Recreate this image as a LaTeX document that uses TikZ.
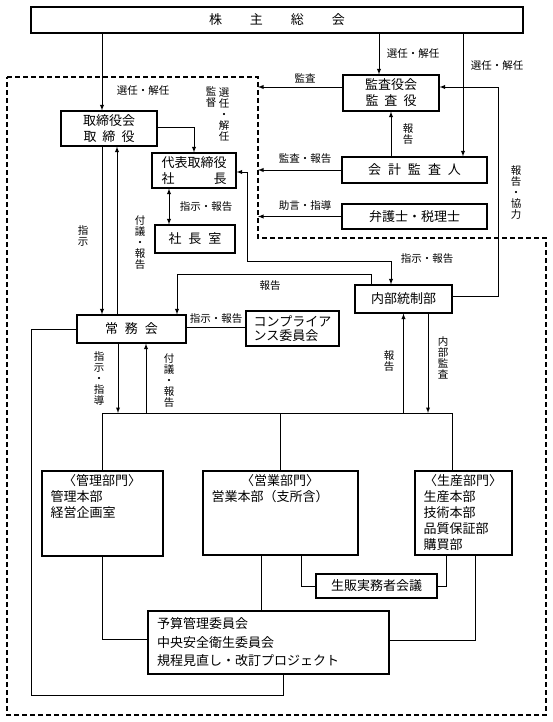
\documentclass[tikz,border=0pt]{standalone}
\usepackage{fontspec}
\setmainfont{Noto Sans CJK JP}
\usetikzlibrary{arrows}
\tikzset{
  box/.style={
    % The shape:
    shape=rectangle,inner sep=0pt,
    % The border:
    draw=black,line width=1.1pt,
    % The text:
    align=center,font=\fontsize{13}{16}\selectfont
  }}
\tikzset{
  depttxt/.style={
    % text block in the top left corner of a box
    anchor=north west,inner sep=0pt,align=left,
    font=\fontsize{13}{16}\selectfont}}
\tikzset{
  lbl/.style={
    inner sep=0pt,align=center,
    font=\fontsize{10.5}{11}\selectfont}}
\tikzset{
  line/.style={line width=0.9pt},
  arr/.style={line,->,>=latex},
  both/.style={line,<->,>=latex},
  border/.style={line width=1.1pt,dash pattern=on 5pt off 3pt}}

\begin{document}
\begin{tikzpicture}[x=1pt,y=-1pt]
	\useasboundingbox (0,0) rectangle (553,722);
	% Boxes
	\node[box,minimum width=492pt,minimum height=26pt] (kabu) at (277,20) {株\hspace{28pt}主\hspace{28pt}総\hspace{28pt}会};
	\node[box,minimum width=96pt,minimum height=35pt] (tori) at (109,128.5) {取締役会\\取\hspace{6pt}締\hspace{6pt}役};
	\node[box,minimum width=96pt,minimum height=36pt] (kansa) at (391,93) {監査役会\\監\hspace{6pt}査\hspace{6pt}役};
	\node[box,minimum width=84pt,minimum height=35pt] (daihyo) at (194,170.5) {代表取締役\\社\hspace{39pt}長};
	\node[box,minimum width=80pt,minimum height=28pt] (shacho) at (195,239) {社\hspace{7pt}長\hspace{7pt}室};
	\node[box,minimum width=145pt,minimum height=26pt] (kaikei) at (414.5,170) {会\hspace{7pt}計\hspace{7pt}監\hspace{7pt}査\hspace{7pt}人};
	\node[box,minimum width=145pt,minimum height=25pt] (bengo) at (414.5,216.5) {弁護士・税理士};
	\node[box,minimum width=97pt,minimum height=28pt] (naibu) at (403.5,299) {内部統制部};
	\node[box,minimum width=109pt,minimum height=28pt] (jomu) at (131.5,329) {常\hspace{7pt}務\hspace{7pt}会};
	\node[box,minimum width=93pt,minimum height=35pt,align=left,font=\fontsize{13}{14}\selectfont] (comp) at (292.5,328.5) {コンプライア\\ンス委員会};
	% Departments
	\node[box,minimum width=121pt,minimum height=85pt] (kanri) at (102.5,513.5) {};
	\node[depttxt,text width=103pt] (kanriT) at ([xshift=9pt,yshift=-4pt]kanri.north west) {\makebox[\linewidth]{〈管理部門〉}\\管理本部\\経営企画室};
	\node[box,minimum width=155pt,minimum height=84pt] (eigyo) at (280.5,513) {};
	\node[depttxt,text width=137pt] (eigyoT) at ([xshift=9pt,yshift=-4pt]eigyo.north west) {\makebox[\linewidth]{〈営業部門〉}\\営業本部（支所含）};
	\node[box,minimum width=97pt,minimum height=84pt] (seisan) at (463.5,513) {};
	\node[depttxt,text width=79pt] (seisanT) at ([xshift=9pt,yshift=-4pt]seisan.north west) {\makebox[\linewidth]{〈生産部門〉}\\生産本部\\技術本部\\品質保証部\\購買部};
	\node[box,minimum width=121pt,minimum height=24pt] (seihan) at (376.5,586) {生販実務者会議};
	\node[box,minimum width=241pt,minimum height=63pt,align=left,text width=223pt,font=\fontsize{13}{18.5}\selectfont] (yosan) at (268.5,642.5) {予算管理委員会\\中央安全衛生委員会\\規程見直し・改訂プロジェクト};
	% Dashed border and bus
	\coordinate (dl) at (258,77);
	\coordinate (bus) at (103,413);
	\draw[border] (7,77) -- (dl) -- (258,238) -- (546,238) -- (546,715) -- (7,715) -- cycle;
	% Lines out of kabu
	\draw[arr] ([xshift=-7pt]tori.north |- kabu.south) -- ([xshift=-7pt]tori.north);
	\draw[arr] ([xshift=-12pt]kansa.north |- kabu.south) -- ([xshift=-12pt]kansa.north);
	\draw[arr] ([xshift=48.5pt]kaikei.north |- kabu.south) -- ([xshift=48.5pt]kaikei.north);
	\node[lbl] (l1) at (143,91) {選任・解任};
	\node[lbl] (l2) at (413,54) {選任・解任};
	\node[lbl] (l3) at (497,66) {選任・解任};
	% Lines into the dashed border
	\draw[arr] ([yshift=6pt]kansa.west) -- ([yshift=6pt]kansa.west -| dl);
	\draw[arr] (kaikei.west) -- (kaikei.west -| dl);
	\draw[arr] (bengo.west) -- (bengo.west -| dl);
	\node[lbl] (l4) at (305,78) {監査};
	\node[lbl] (l8) at (305,159) {監査・報告};
	\node[lbl] (l9) at (305,206) {助言・指導};
	\node[lbl] (l5) at (211,97.5) {監\\督};
	\node[lbl] (l6) at (224,114.5) {選\\任\\・\\解\\任};
	% Lines round kansa
	\draw[arr] (kaikei.north -| kansa.south) -- (kansa.south);
	\node[lbl] (l7) at (408,134) {報\\告};
	\draw[arr] ([yshift=3pt]naibu.east) -- ++(46,0) |- ([yshift=6pt]kansa.east);
	\node[lbl] (l10) at (516,193) {報\\告\\・\\協\\力};
	% Lines out of tori
	\draw[arr] ([yshift=1.5pt]tori.east) -| (daihyo.north);
	\draw[arr] ([xshift=-7pt]tori.south) -- ([xshift=-7pt]tori.south |- jomu.north);
	\draw[arr] ([xshift=8pt]tori.south |- jomu.north) -- ([xshift=8pt]tori.south);
	\node[lbl] (l13) at (83,236) {指\\示};
	\node[lbl] (l12) at (140,243) {付\\議\\・\\報\\告};
	% Lines out of daihyo
	\draw[both] ([xshift=-25pt]daihyo.south) -- ([xshift=-25pt]daihyo.south |- shacho.north);
	\node[lbl] (l11) at (206,207) {指示・報告};
	\draw[both] ([yshift=-1.5pt]daihyo.east) -- ++(11,0) |- ([xshift=-12.5pt,yshift=23pt]naibu.north) -- ([xshift=-12.5pt]naibu.north);
	\node[lbl] (l14) at (427,259) {指示・報告};
	% Lines out of naibu
	\draw[arr] ([xshift=-32.5pt]naibu.north) -- ++(0,-10) -| ([xshift=45.5pt]jomu.north);
	\node[lbl] (l15) at (270,286) {報告};
	\draw[arr] (naibu.south |- bus) -- (naibu.south);
	\draw[arr] ([xshift=24.5pt]naibu.south) -- ([xshift=24.5pt]naibu.south |- bus);
	\node[lbl] (l19) at (389,361) {報\\告};
	\node[lbl] (l20) at (443,358) {内\\部\\監\\査};
	% Lines out of jomu
	\draw[line] ([yshift=2pt]jomu.east) -- ([yshift=2pt]jomu.east -| comp.west);
	\node[lbl] (l16) at (216,319) {指示・報告};
	\draw[arr] ([xshift=-13.5pt]jomu.south) -- ([xshift=-13.5pt]jomu.south |- bus);
	\draw[arr] ([xshift=14.5pt]jomu.south |- bus) -- ([xshift=14.5pt]jomu.south);
	\node[lbl] (l17) at (99,379) {指\\示\\・\\指\\導};
	\node[lbl] (l18) at (169,381) {付\\議\\・\\報\\告};
	\draw[line] (jomu.west) -- ++(-45,0) |- ([xshift=14.5pt,yshift=-21pt]yosan.south) -- ([xshift=14.5pt]yosan.south);
	% Bus to departments
	\draw[line] (kanri.north) |- ([xshift=-11.5pt]seisan.north |- bus) -- ([xshift=-11.5pt]seisan.north);
	\draw[line] (eigyo.north) -- (eigyo.north |- bus);
	% Lines out of departments
	\draw[line] (kanri.south) |- ([yshift=3.5pt]yosan.west);
	\draw[line] ([xshift=-19.5pt]eigyo.south) -- ([xshift=-19.5pt]eigyo.south |- yosan.north);
	\draw[line] ([xshift=20.5pt]eigyo.south) |- (seihan.west);
	\draw[line] ([xshift=-17.5pt]seisan.south) |- (seihan.east);
	\draw[line] ([xshift=11.5pt]seisan.south) |- ([yshift=2.5pt]yosan.east);
\end{tikzpicture}
\end{document}
